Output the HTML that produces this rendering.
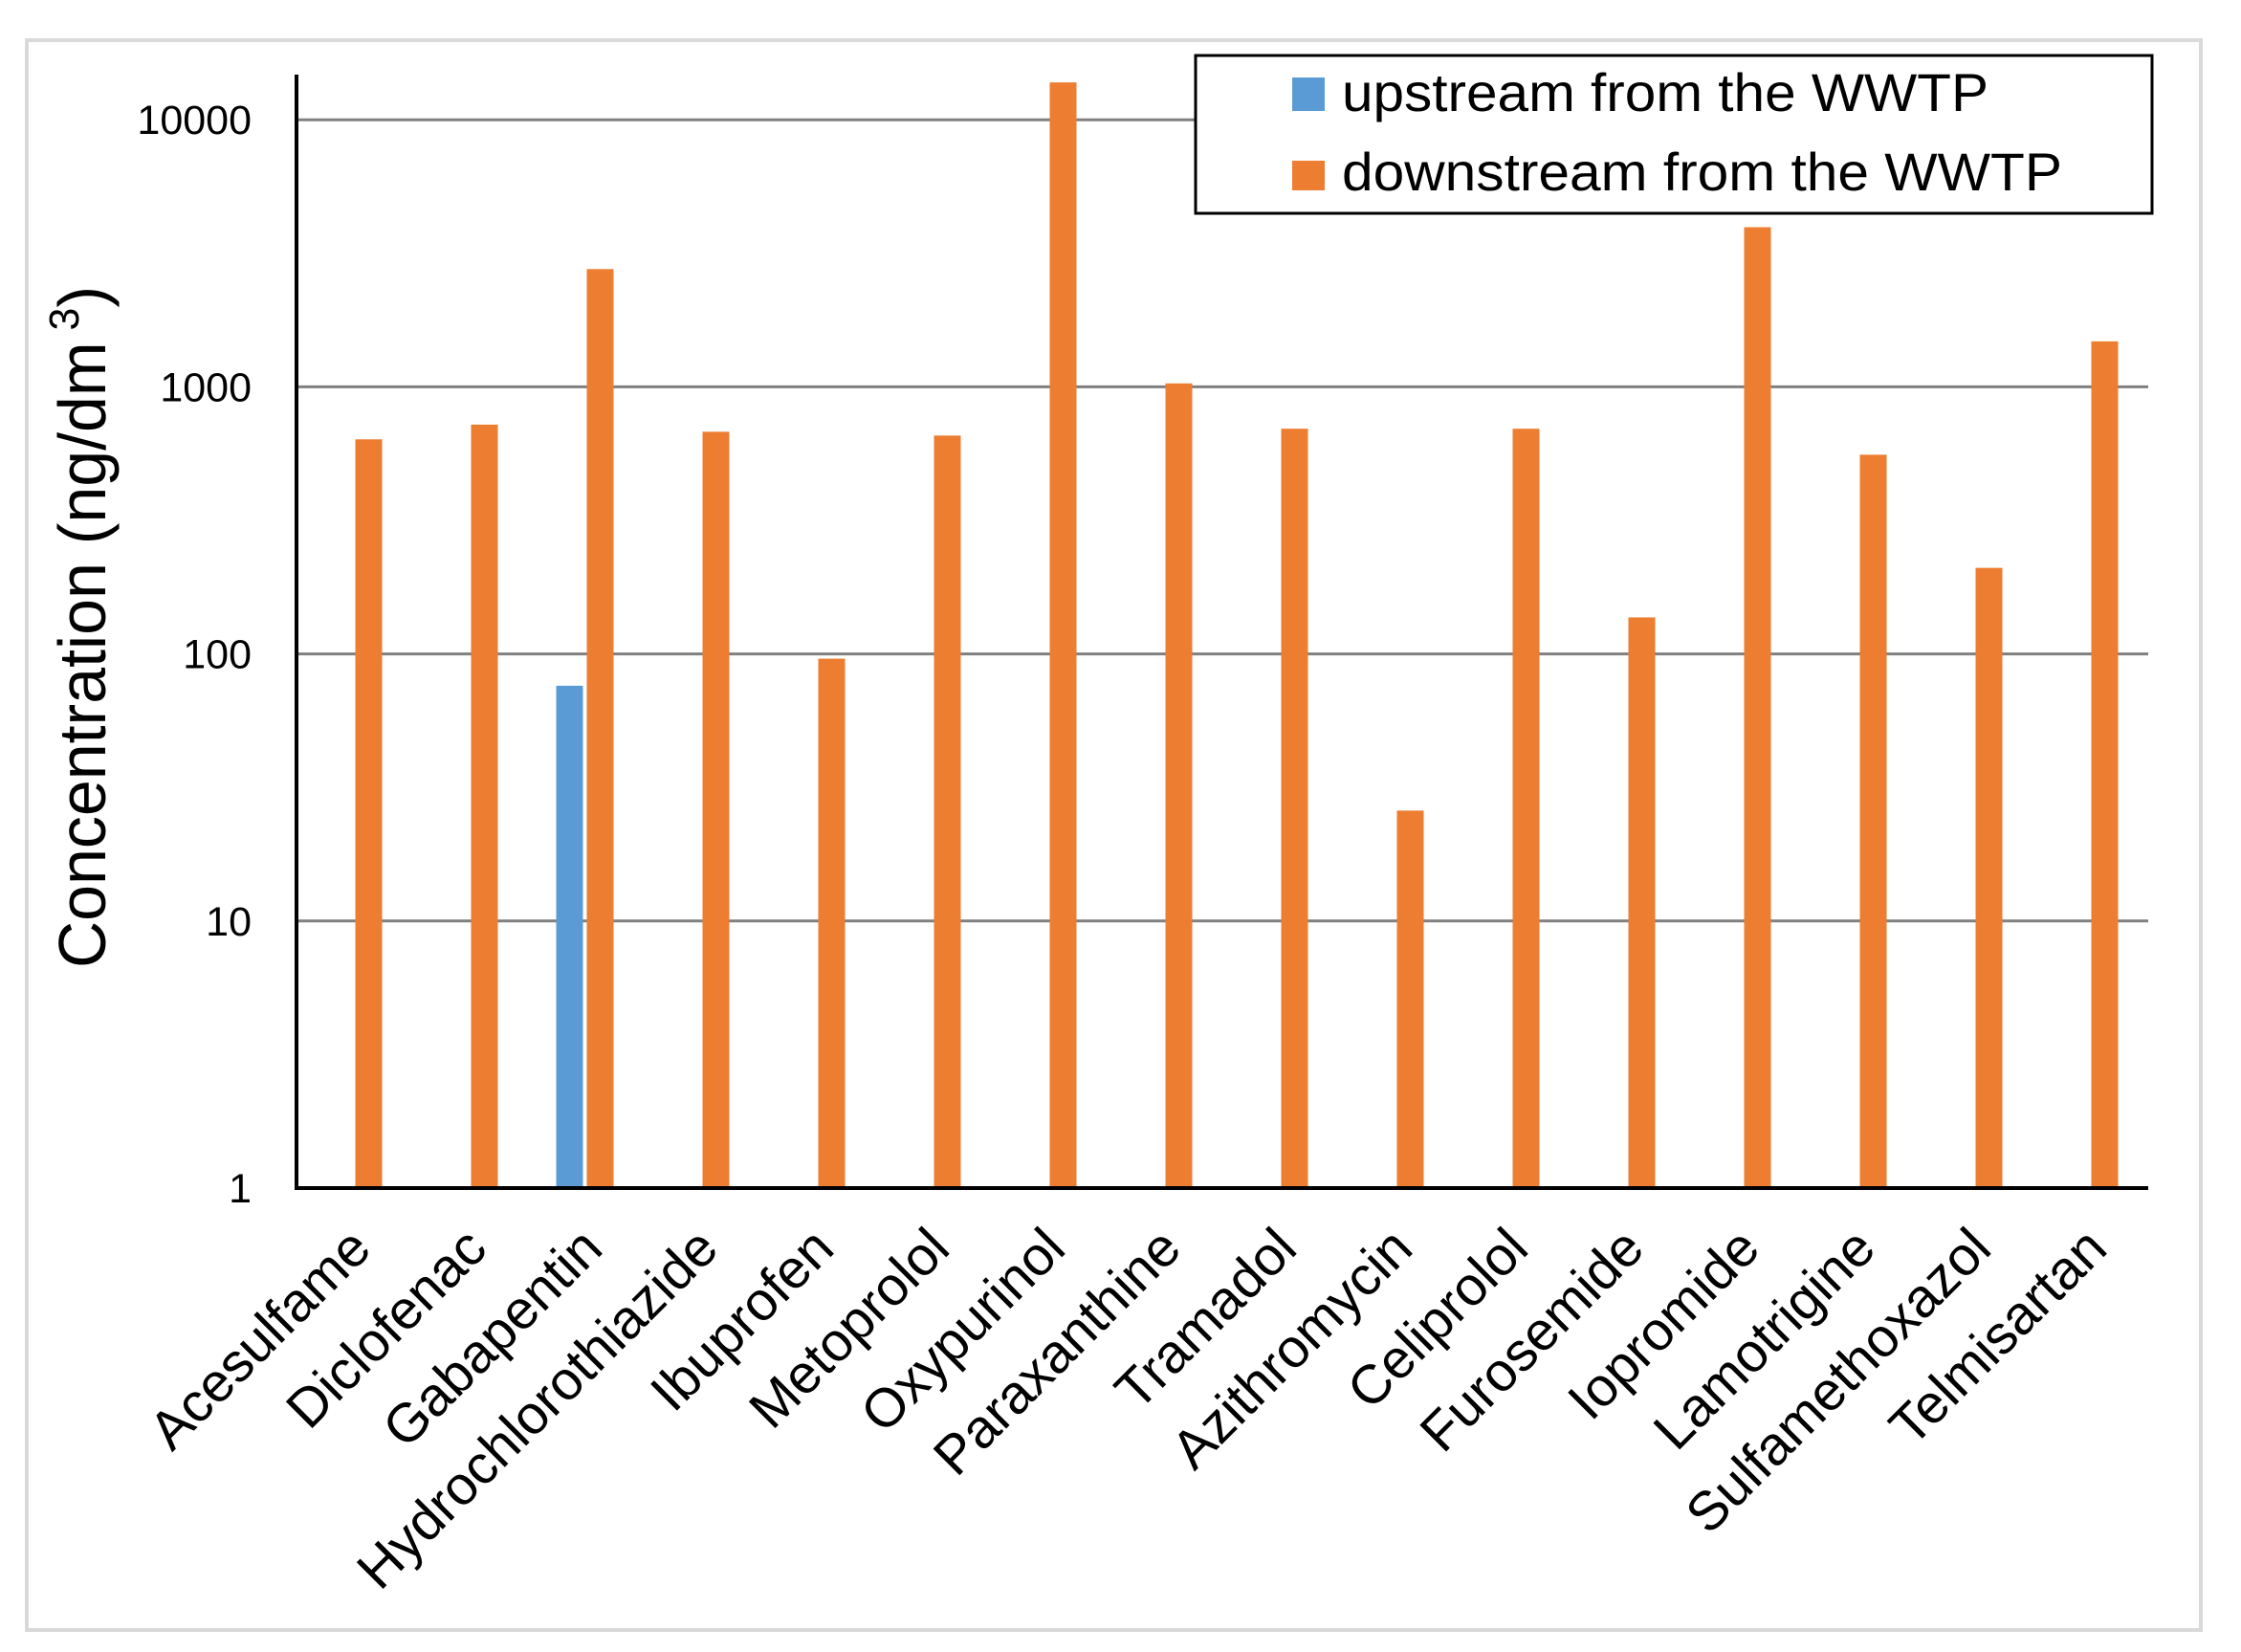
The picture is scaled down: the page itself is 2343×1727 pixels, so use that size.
<!DOCTYPE html>
<html><head><meta charset="utf-8"><style>
html,body{margin:0;padding:0;background:#fff;}
svg{display:block;font-family:"Liberation Sans",sans-serif;}
</style></head><body>
<svg id="chart" width="2343" height="1727" viewBox="0 0 2343 1727">
<rect x="28" y="42" width="2273" height="1662" fill="#fff" stroke="#d9d9d9" stroke-width="4"/>
<g id="grid"></g>
<g id="bars"></g>
<g id="axes"></g>
<g id="xlabels"></g>
<g id="yticks"></g>
<text x="0" y="0" transform="translate(110,1012) rotate(-90)" font-size="70" textLength="713" lengthAdjust="spacingAndGlyphs" fill="#000">Concentration (ng/dm<tspan font-size="44" dy="-28"> 3</tspan><tspan dy="28">)</tspan></text>
<g>
<rect x="1250" y="58" width="1000" height="165" fill="#fff" stroke="#000" stroke-width="3"/>
<rect x="1351" y="81" width="34" height="35" fill="#5b9bd5"/>
<text x="1403" y="116" font-size="56" textLength="676" lengthAdjust="spacingAndGlyphs">upstream from the WWTP</text>
<rect x="1351" y="168" width="34" height="31" fill="#ed7d31"/>
<text x="1403" y="199" font-size="56" textLength="753" lengthAdjust="spacingAndGlyphs">downstream from the WWTP</text>
</g>
</svg>
<script>
const categories = ["Acesulfame","Diclofenac","Gabapentin","Hydrochlorothiazide","Ibuprofen","Metoprolol","Oxypurinol","Paraxanthine","Tramadol","Azithromycin","Celiprolol","Furosemide","Iopromide","Lamotrigine","Sulfamethoxazol","Telmisartan"];
const upstream = [null,null,76,null,null,null,null,null,null,null,null,null,null,null,null,null];
const downstream = [636,722,2760,679,96,657,13800,1030,697,25.9,697,137,3960,557,210,1480];
const yTicks = [1,10,100,1000,10000];
const yTickLabels = ["1","10","100","1000","10000"];

const NS="http://www.w3.org/2000/svg";
const X0=310, X1=2246, Y0=1242, DEC=279.2;
const band=(X1-X0)/categories.length;
function xc(i){return X0+band*(i+0.5);}
function y(v){return Y0-DEC*Math.log10(v);}
function mk(tag,attrs,parent){const e=document.createElementNS(NS,tag);for(const k in attrs)e.setAttribute(k,attrs[k]);parent.appendChild(e);return e;}
const grid=document.getElementById('grid'),bars=document.getElementById('bars'),axes=document.getElementById('axes'),xl=document.getElementById('xlabels'),yt=document.getElementById('yticks');
yTicks.forEach((t,i)=>{
  if(t>1){const l=mk('line',{x1:X0,x2:X1,y1:y(t),y2:y(t),stroke:'#808080','stroke-width':3},grid);
  
  }
  const tx=mk('text',{x:263,y:y(t)+15,'text-anchor':'end','font-size':43,fill:'#000'},yt);
  tx.textContent=yTickLabels[i];
  
  
});
categories.forEach((c,i)=>{
  const cx=xc(i);
  if(downstream[i]!=null){const r=mk('rect',{x:cx+1,y:y(downstream[i]),width:28,height:Y0-y(downstream[i]),fill:'#ed7d31'},bars);
  
  }
  if(upstream[i]!=null){const r=mk('rect',{x:cx-31,y:y(upstream[i]),width:28,height:Y0-y(upstream[i]),fill:'#5b9bd5'},bars);
  
  }
  const t=mk('text',{x:0,y:0,'text-anchor':'end','font-size':57,fill:'#000',transform:`translate(${cx+20},${1308}) rotate(-45)`},xl);
  t.textContent=c;
  
  
});
const ya=mk('line',{x1:X0,x2:X0,y1:78,y2:Y0+2,stroke:'#000','stroke-width':4},axes);


const xa=mk('line',{x1:X0-2,x2:X1,y1:Y0,y2:Y0,stroke:'#000','stroke-width':4},axes);


</script>
</body></html>
